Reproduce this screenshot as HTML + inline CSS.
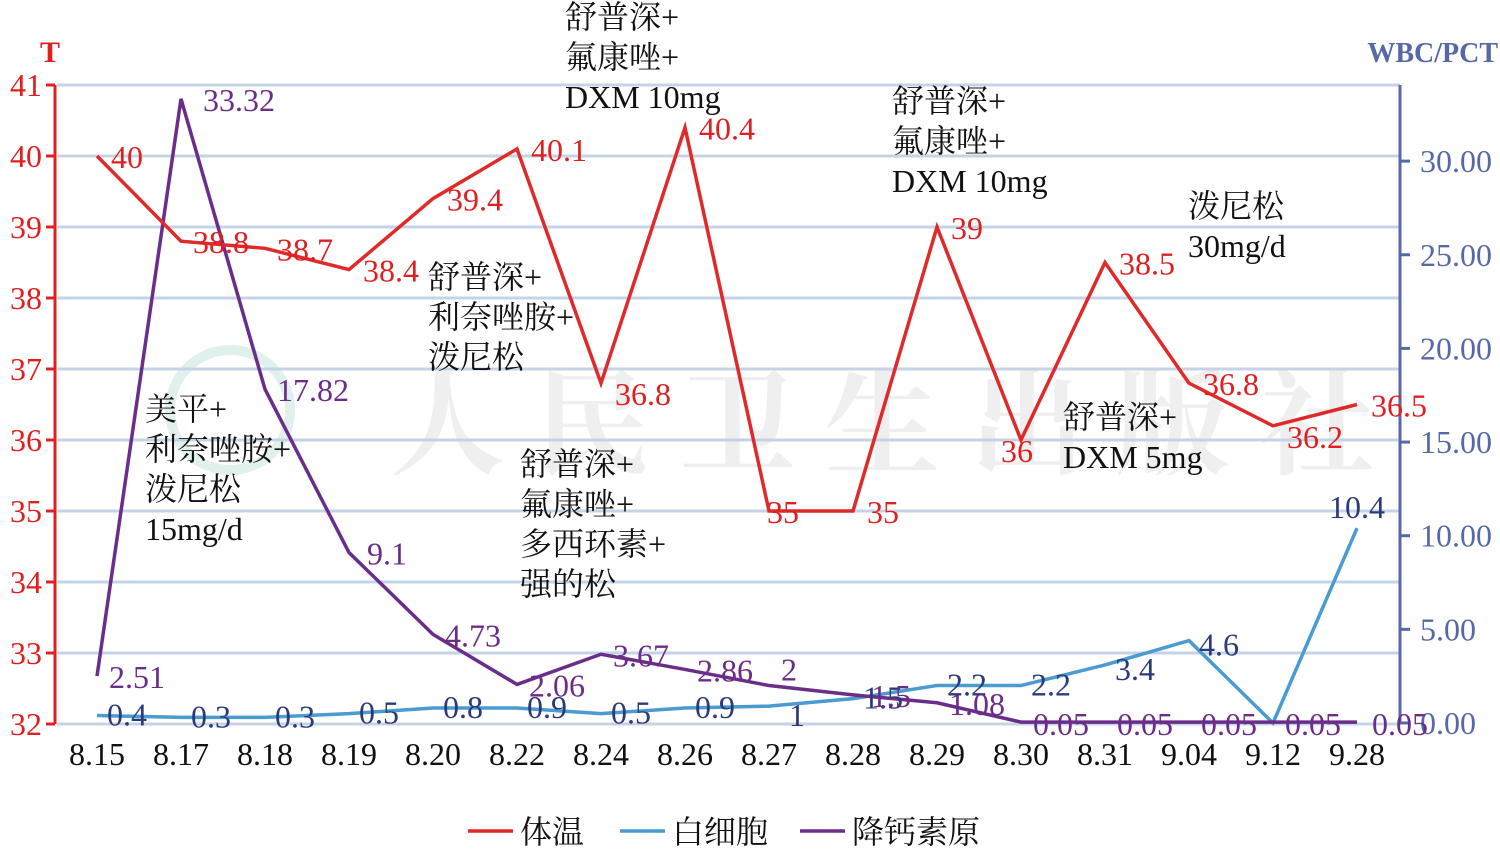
<!DOCTYPE html>
<html><head><meta charset="utf-8"><style>
html,body{margin:0;padding:0;background:#fff;width:1500px;height:849px;overflow:hidden}
text{font-family:"Liberation Serif","Noto Serif CJK SC","Noto Sans CJK SC",serif}
</style></head><body>
<svg id="s" width="1500" height="849" xmlns="http://www.w3.org/2000/svg"></svg>
<script>
const s=document.getElementById('s');let h='';
const xs=i=>97+84*i;
const yT=t=>724-(t-32)*71;
const yR=v=>723-v*18.73;
h+='<text x="390" y="465" font-size="115" fill="#efefef" font-weight="bold" letter-spacing="30">人民卫生出版社</text>';
h+='<circle cx="230" cy="410" r="60" fill="none" stroke="#e0f0ec" stroke-width="10"/>';
for(let t=32;t<=41;t++){h+=`<line x1="57" x2="1400" y1="${yT(t)}" y2="${yT(t)}" stroke="#c5d3e6" stroke-width="3"/>`;
h+=`<line x1="46" x2="55" y1="${yT(t)}" y2="${yT(t)}" stroke="#e02020" stroke-width="3"/>`;
h+=`<text x="42" y="${yT(t)+11}" font-size="32" fill="#e02020" text-anchor="end">${t}</text>`;}
h+=`<line x1="55" x2="55" y1="${yT(41)}" y2="${yT(32)}" stroke="#e02020" stroke-width="3"/>`;
h+='<text x="40" y="62" font-size="30" fill="#e02020" font-weight="bold">T</text>';
h+=`<line x1="1400" x2="1400" y1="85" y2="${yR(0)}" stroke="#5668a6" stroke-width="3"/>`;
for(let v=0;v<=30;v+=5){h+=`<line x1="1400" x2="1410" y1="${yR(v)}" y2="${yR(v)}" stroke="#5668a6" stroke-width="3"/>`;
h+=`<text x="1420" y="${yR(v)+11}" font-size="32" fill="#5668a6">${v.toFixed(2)}</text>`;}
h+='<text x="1498" y="62" font-size="28" fill="#5668a6" font-weight="bold" text-anchor="end">WBC/PCT</text>';
const cats=['8.15','8.17','8.18','8.19','8.20','8.22','8.24','8.26','8.27','8.28','8.29','8.30','8.31','9.04','9.12','9.28'];
cats.forEach((c,i)=>h+=`<text x="${xs(i)}" y="765" font-size="32" text-anchor="middle" fill="#111">${c}</text>`);
const T=[40,38.8,38.7,38.4,39.4,40.1,36.8,40.4,35,35,39,36,38.5,36.8,36.2,36.5];
const W=[0.4,0.3,0.3,0.5,0.8,0.8,0.5,0.8,0.9,1.3,2.0,2.0,3.1,4.4,0,10.4];
const WL=['0.4','0.3','0.3','0.5','0.8','0.9','0.5','0.9','1','1.5','2.2','2.2','3.4','4.6','','10.4'];
const P=[2.51,33.32,17.82,9.1,4.73,2.06,3.67,2.86,2,1.5,1.08,0.05,0.05,0.05,0.05,0.05];
const pl=(a,f,c)=>`<polyline fill="none" stroke="${c}" stroke-width="3.5" points="${a.map((v,i)=>xs(i)+','+f(v)).join(' ')}"/>`;
h+=pl(W,yR,'#4a9bd0');h+=pl(P,yR,'#6a2d8a');h+=pl(T,yT,'#e02a2a');
T.forEach((t,i)=>{let dx=14,dy=12;if(i==6||i==11||i==14)dy=22;if(i==11)dx=-20;if(i==1||i==2)dx=12;if(i==8)dx=-2;
h+=`<text x="${xs(i)+dx}" y="${yT(t)+dy}" font-size="32" fill="#e02020">${t}</text>`;});
WL.forEach((l,i)=>{if(!l)return;let y=yR(W[i])+10,x=xs(i)+10;if(i==15){y=yR(W[i])-10;x=xs(i)-28}if(i>=12&&i<=13){y=yR(W[i])+15}
if(i==8){x=xs(i)+20;y=yR(W[i])+20}
h+=`<text x="${x}" y="${y}" font-size="32" fill="#2a3a7a">${l}</text>`;});
P.forEach((p,i)=>{let x=xs(i)+12,y=yR(p)+12;if(i==1)x=xs(i)+22;if(i>=11){y=yR(0)+12}if(i==15)x=xs(i)+15;if(i==8)y=yR(p)-5;if(i==9)x=xs(i)+18;if(i==3)x=xs(i)+18;
h+=`<text x="${x}" y="${y}" font-size="32" fill="#6a2d8a">${p}</text>`;});
const notes=[[565,28,['舒普深+','氟康唑+','DXM 10mg']],[892,112,['舒普深+','氟康唑+','DXM 10mg']],[1188,217,['泼尼松','30mg/d']],[428,288,['舒普深+','利奈唑胺+','泼尼松']],[145,420,['美平+','利奈唑胺+','泼尼松','15mg/d']],[520,475,['舒普深+','氟康唑+','多西环素+','强的松']],[1063,428,['舒普深+','DXM 5mg']]];
notes.forEach(([x,y,ls])=>ls.forEach((l,k)=>h+=`<text x="${x}" y="${y+k*40}" font-size="32" fill="#111">${l}</text>`));
const lg=[[468,'#e02a2a','体温'],[620,'#4a9bd0','白细胞'],[800,'#6a2d8a','降钙素原']];
lg.forEach(([x,c,t])=>{h+=`<line x1="${x}" x2="${x+45}" y1="831" y2="831" stroke="${c}" stroke-width="3.5"/><text x="${x+52}" y="843" font-size="32" fill="#111">${t}</text>`});
s.innerHTML=h;
</script>
</body></html>
